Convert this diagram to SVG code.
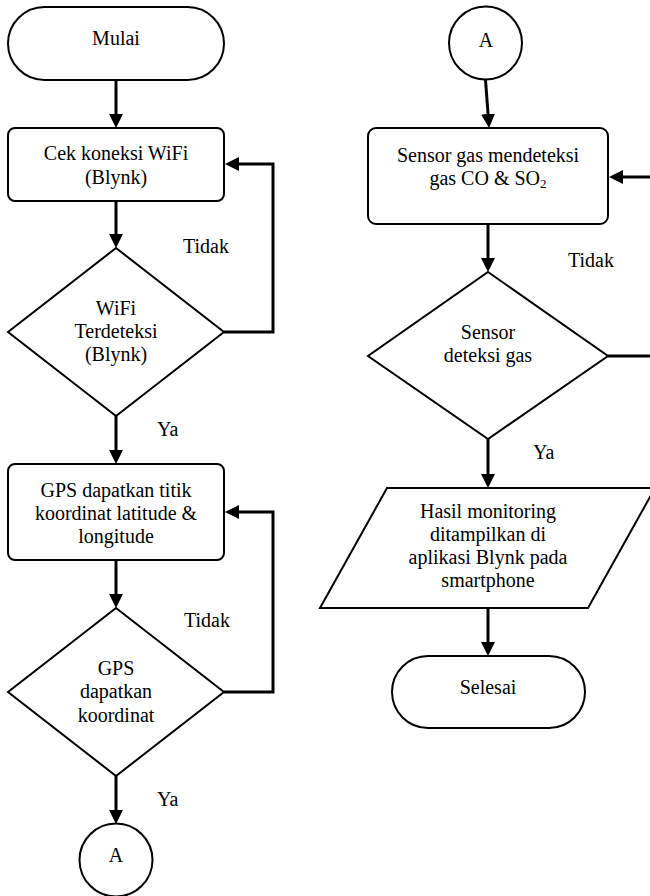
<svg xmlns="http://www.w3.org/2000/svg" width="650" height="896" viewBox="0 0 650 896">
<style>
.s{fill:#fff;stroke:#000;stroke-width:2}
.c{fill:none;stroke:#000;stroke-width:3}
text{font-family:'Liberation Serif','DejaVu Serif',serif;font-size:20px;fill:#000}
.t{text-anchor:middle}
</style>
<defs>
<marker id="ah" markerUnits="userSpaceOnUse" markerWidth="16" markerHeight="16" refX="6" refY="7" orient="auto">
<path d="M0,0 L14,7 L0,14 z" fill="#000"/>
</marker>
</defs>
<rect width="650" height="896" fill="#fff"/>
<g id="connectors">
<line class="c" x1="116" y1="80" x2="116" y2="120" marker-end="url(#ah)"/>
<line class="c" x1="116" y1="201" x2="116" y2="240" marker-end="url(#ah)"/>
<polyline class="c" points="224,332 273,332 273,164 233,164" marker-end="url(#ah)"/>
<line class="c" x1="116" y1="416" x2="116" y2="456" marker-end="url(#ah)"/>
<line class="c" x1="116" y1="560" x2="116" y2="600" marker-end="url(#ah)"/>
<polyline class="c" points="224,692 273,692 273,512 233,512" marker-end="url(#ah)"/>
<line class="c" x1="116" y1="776" x2="116" y2="816" marker-end="url(#ah)"/>
<line class="c" x1="485.5" y1="80" x2="488.5" y2="120" marker-end="url(#ah)"/>
<line class="c" x1="488" y1="224" x2="488" y2="264" marker-end="url(#ah)"/>
<line class="c" x1="608" y1="356" x2="652" y2="356"/>
<line class="c" x1="652" y1="177" x2="617" y2="177" marker-end="url(#ah)"/>
<line class="c" x1="488" y1="439" x2="488" y2="480" marker-end="url(#ah)"/>
<line class="c" x1="488" y1="608" x2="488" y2="648" marker-end="url(#ah)"/>
<text x="183" y="252.5">Tidak</text>
<text x="157" y="435.5">Ya</text>
<text x="184" y="626.5">Tidak</text>
<text x="157" y="805.5">Ya</text>
<text x="568" y="266.5">Tidak</text>
<text x="533" y="458.5">Ya</text>
</g>
<g id="mulai">
<rect class="s" x="8" y="7" width="216" height="73" rx="36.5"/>
<text class="t" x="116" y="45">Mulai</text>
</g>
<g id="cek-wifi">
<rect class="s" x="8" y="128" width="216" height="73" rx="7"/>
<text class="t" x="116" y="159.5">Cek koneksi WiFi</text>
<text class="t" x="116" y="183.5">(Blynk)</text>
</g>
<g id="wifi-terdeteksi">
<polygon class="s" points="116,248 224,332 116,416 8,332"/>
<text class="t" x="116" y="314.5">WiFi</text>
<text class="t" x="116" y="337.5">Terdeteksi</text>
<text class="t" x="116" y="360.5">(Blynk)</text>
</g>
<g id="gps-titik">
<rect class="s" x="8" y="464" width="216" height="96" rx="7"/>
<text class="t" x="116" y="496.5">GPS dapatkan titik</text>
<text class="t" x="116" y="519.5">koordinat latitude &amp;</text>
<text class="t" x="116" y="542.5">longitude</text>
</g>
<g id="gps-koordinat">
<polygon class="s" points="116,608 224,692 116,776 8,692"/>
<text class="t" x="116" y="674.5">GPS</text>
<text class="t" x="116" y="698">dapatkan</text>
<text class="t" x="116" y="721.5">koordinat</text>
</g>
<g id="a-bottom">
<circle class="s" cx="116" cy="860" r="36.5"/>
<text class="t" x="116" y="861.5">A</text>
</g>
<g id="a-top">
<circle class="s" cx="485.5" cy="43" r="36.5"/>
<text class="t" x="486" y="46.5">A</text>
</g>
<g id="sensor-gas">
<rect class="s" x="368" y="128" width="240" height="96" rx="8"/>
<text class="t" x="488" y="162">Sensor gas mendeteksi</text>
<text class="t" x="488" y="185">gas CO &amp; SO<tspan font-size="13" dy="3">2</tspan></text>
</g>
<g id="sensor-deteksi">
<polygon class="s" points="488,272 608,356 488,439 368,356"/>
<text class="t" x="488" y="338.5">Sensor</text>
<text class="t" x="488" y="361.5">deteksi gas</text>
</g>
<g id="hasil">
<polygon class="s" points="387,488 655,488 588,608 320,608"/>
<text class="t" x="488" y="517.5">Hasil monitoring</text>
<text class="t" x="488" y="540.5">ditampilkan di</text>
<text class="t" x="488" y="563.5">aplikasi Blynk pada</text>
<text class="t" x="488" y="587">smartphone</text>
</g>
<g id="selesai">
<rect class="s" x="392" y="656" width="193" height="72" rx="36"/>
<text class="t" x="488" y="693.5">Selesai</text>
</g>
</svg>
